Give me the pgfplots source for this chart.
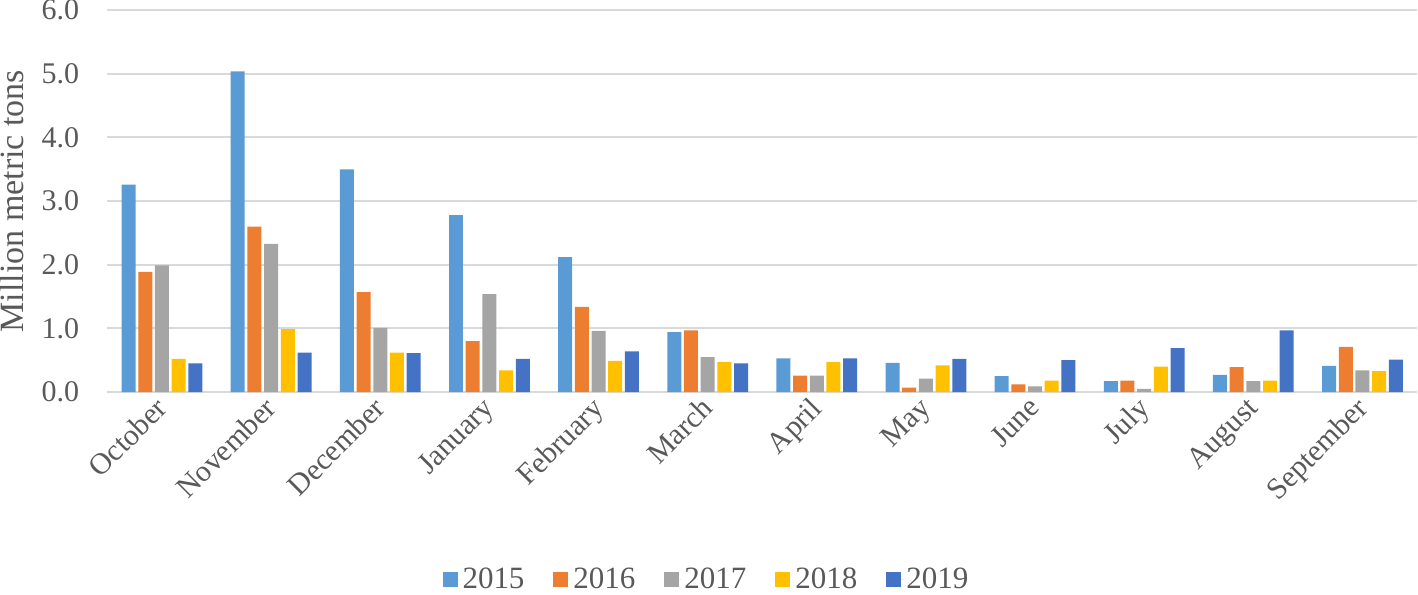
\documentclass[border=0pt]{standalone}
\usepackage{fontspec}
\setmainfont{Liberation Serif}
\usepackage{pgfplots}
\pgfplotsset{compat=1.18}
\definecolor{c15}{HTML}{5B9BD5}
\definecolor{c16}{HTML}{ED7D31}
\definecolor{c17}{HTML}{A5A5A5}
\definecolor{c18}{HTML}{FFC000}
\definecolor{c19}{HTML}{4472C4}
\definecolor{txt}{HTML}{595959}
\definecolor{gridc}{HTML}{D9D9D9}
\newcommand{\tickfont}{\fontsize{15}{18}\selectfont}
\newcommand{\labfont}{\fontsize{17}{20}\selectfont}
\newcommand{\legfont}{\fontsize{15.5}{18}\selectfont}
\begin{document}
\begin{tikzpicture}
\begin{axis}[
  scale only axis, width=655pt, height=191pt,
  xmin=-0.5, xmax=11.5, ymin=0, ymax=6,
  ybar=1.35pt, bar width=7pt,
  axis line style={draw=none},
  major tick length=0pt,
  ytick={0,1,2,3,4,5,6},
  ymajorgrids, grid style={gridc, line width=1pt},
  xtick={0,...,11},
  xticklabels={October,November,December,January,February,March,April,May,June,July,August,September},
  tick label style={font=\tickfont, text=txt, inner sep=0pt},
  yticklabel style={/pgf/number format/fixed, /pgf/number format/fixed zerofill, /pgf/number format/precision=1, /pgf/number format/assume math mode=true, xshift=-14pt},
  xticklabel style={xshift=-4pt, yshift=-1.5pt, rotate=45, anchor=north east},
  ylabel={Million metric tons},
  every axis y label/.style={at={(axis description cs:0,0.5)}, xshift=-47.75pt, rotate=90, anchor=center, text=txt, font=\labfont, inner sep=0pt},
  legend columns=5,
  legend style={at={(0.4576,-0.492)}, anchor=center, draw=none, text=txt, font=\legfont, inner sep=0pt, outer sep=0pt,
    nodes={inner sep=1.25pt},
    /tikz/every even column/.append style={column sep=13.25pt}},
  legend image code/.code={\fill[#1, draw=none] (0pt,-3.75pt) rectangle (7.5pt,3.75pt); \path (0pt,0pt) -- (8.75pt,0pt);},
]
\addplot[fill=c15, draw=none] coordinates {(0,3.26) (1,5.04) (2,3.50) (3,2.78) (4,2.12) (5,0.94) (6,0.53) (7,0.46) (8,0.25) (9,0.17) (10,0.27) (11,0.41)};
\addplot[fill=c16, draw=none] coordinates {(0,1.89) (1,2.60) (2,1.57) (3,0.80) (4,1.34) (5,0.97) (6,0.26) (7,0.07) (8,0.12) (9,0.18) (10,0.39) (11,0.71)};
\addplot[fill=c17, draw=none] coordinates {(0,1.99) (1,2.33) (2,1.01) (3,1.54) (4,0.96) (5,0.55) (6,0.26) (7,0.21) (8,0.09) (9,0.05) (10,0.17) (11,0.34)};
\addplot[fill=c18, draw=none] coordinates {(0,0.52) (1,0.99) (2,0.62) (3,0.34) (4,0.49) (5,0.47) (6,0.47) (7,0.42) (8,0.18) (9,0.40) (10,0.18) (11,0.33)};
\addplot[fill=c19, draw=none] coordinates {(0,0.45) (1,0.62) (2,0.61) (3,0.52) (4,0.64) (5,0.45) (6,0.53) (7,0.52) (8,0.50) (9,0.69) (10,0.97) (11,0.51)};
\legend{2015,2016,2017,2018,2019}
\end{axis}
\end{tikzpicture}
\end{document}
